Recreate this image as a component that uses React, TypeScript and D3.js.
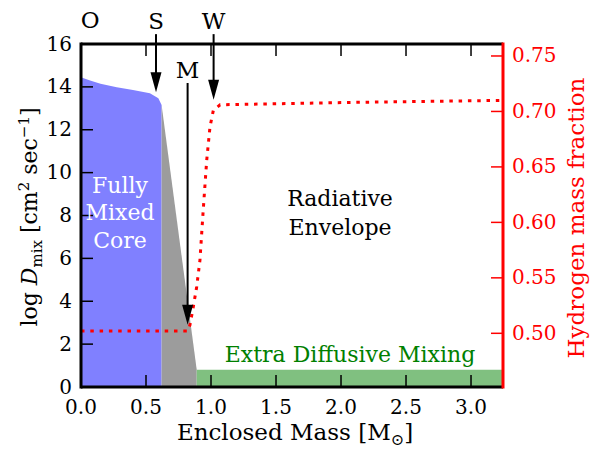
import * as d3 from "d3";

// mixing profile of the convective core (log D_mix)
const coreMass = [0, 0.01, 0.07, 0.15, 0.275, 0.4, 0.53, 0.595, 0.62];
const coreLogD = [14.45, 14.43, 14.3, 14.15, 13.98, 13.85, 13.7, 13.47, 13.15];

// overshoot region
const overMass = [0.62, 0.89];
const overLogD = [13.15, 0.8];

// extra diffusive mixing in the envelope
const envMass = [0.89, 3.246];
const envLogD = [0.8, 0.8];

// hydrogen mass fraction
const hMass = [0, 0.82, 0.838, 0.864, 0.89, 0.915, 0.94, 0.967, 0.992, 1.018, 1.07, 2.0, 3.246];
const hFrac = [0.502, 0.502, 0.5075, 0.524, 0.542, 0.566, 0.611, 0.656, 0.686, 0.701, 0.706, 0.708, 0.71];

const xTicks = [0, 0.5, 1, 1.5, 2, 2.5, 3];
const yTicks = [0, 2, 4, 6, 8, 10, 12, 14, 16];
const hTicks = [0.5, 0.55, 0.6, 0.65, 0.7, 0.75];

// markers: label, mass, arrow tail and tip (log D units)
const markerLabels = ["O", "S", "W", "M"];
const markerMass = [0.07, 0.577, 1.02, 0.82];
const markerTail = [null, 16.46, 16.46, 14.18];
const markerTip = [null, 13.75, 13.4, 2.9];

const font = "'DejaVu Serif', 'Liberation Serif', serif";

export default function App() {
  const margin = { top: 44, right: 97, bottom: 63, left: 81 };
  const W = 600, H = 450;

  const x = d3.scaleLinear().domain([0, 3.246]).range([margin.left, W - margin.right]);
  const y = d3.scaleLinear().domain([0, 16]).range([H - margin.bottom, margin.top]);
  const yH = d3.scaleLinear().domain([0.4516, 0.7608]).range([H - margin.bottom, margin.top]);

  const area = d3.area<number>()
    .x((d) => x(d))
    .y0(y(0));

  const corePath = area.y1((_, i) => y(coreLogD[i]))(coreMass);
  const overPath = area.y1((_, i) => y(overLogD[i]))(overMass);
  const envPath = area.y1((_, i) => y(envLogD[i]))(envMass);

  const hLine = d3.line<number>()
    .x((d) => x(d))
    .y((_, i) => yH(hFrac[i]))(hMass);

  const x0 = x(0), x1 = x(3.246), yb = y(0), yt = y(16);
  const tickLen = 12;
  const fs = 20;
  const fl = 22;

  return (
    <svg width={W} height={H} style={{ position: "absolute", left: 0, top: 0, background: "#fff" }}
      fontFamily={font}>
      <path d={corePath!} fill="#8080ff" />
      <path d={overPath!} fill="#9c9c9c" />
      <path d={envPath!} fill="#80c080" />

      <path d={hLine!} fill="none" stroke="#ff0000" strokeWidth={3} strokeDasharray="3.5 5.8" />

      {/* ticks, pointing inward */}
      {xTicks.map((t) => (
        <g key={"x" + t}>
          <line x1={x(t)} x2={x(t)} y1={yb} y2={yb - tickLen} stroke="#000" strokeWidth={1.5} />
          <line x1={x(t)} x2={x(t)} y1={yt} y2={yt + tickLen} stroke="#000" strokeWidth={1.5} />
          <text x={x(t)} y={414} textAnchor="middle" fontSize={fs}>{t.toFixed(1)}</text>
        </g>
      ))}
      {yTicks.map((t) => (
        <g key={"y" + t}>
          <line x1={x0} x2={x0 + tickLen} y1={y(t)} y2={y(t)} stroke="#000" strokeWidth={1.5} />
          <text x={72} y={y(t) + 6.5} textAnchor="end" fontSize={fs}>{t}</text>
        </g>
      ))}
      {hTicks.map((t) => (
        <g key={"h" + t}>
          <line x1={x1} x2={x1 - tickLen} y1={yH(t)} y2={yH(t)} stroke="#ff0000" strokeWidth={1.5} />
          <text x={512} y={yH(t) + 6.5} fontSize={fs} fill="#ff0000">{t.toFixed(2)}</text>
        </g>
      ))}

      {/* frame */}
      <line x1={x0} x2={x1} y1={yt} y2={yt} stroke="#000" strokeWidth={3} />
      <line x1={x0} x2={x1} y1={yb} y2={yb} stroke="#000" strokeWidth={3} />
      <line x1={x0} x2={x0} y1={yt - 1.5} y2={yb + 1.5} stroke="#000" strokeWidth={3} />
      <line x1={x1} x2={x1} y1={yt - 1.5} y2={yb + 1.5} stroke="#ff0000" strokeWidth={3} />

      {/* region labels */}
      <text fontSize={fl} fill="#fff" textAnchor="middle">
        <tspan x={120} y={193}>Fully</tspan>
        <tspan x={120} y={220}>Mixed</tspan>
        <tspan x={120} y={248}>Core</tspan>
      </text>
      <text fontSize={fl} textAnchor="middle">
        <tspan x={340} y={206}>Radiative</tspan>
        <tspan x={340} y={235}>Envelope</tspan>
      </text>
      <text x={350} y={362} fontSize={fl} textAnchor="middle" fill="#008000">Extra Diffusive Mixing</text>

      {/* markers */}
      {markerLabels.map((lab, i) => {
        const mx = x(markerMass[i]);
        const tail = markerTail[i];
        const tip = markerTip[i];
        const labelY = tail === null ? 28 : y(tail) - 5;
        return (
          <g key={lab}>
            <text x={mx} y={labelY} fontSize={23} textAnchor="middle">{lab}</text>
            {tail !== null && tip !== null && (
              <>
                <line x1={mx} x2={mx} y1={y(tail)} y2={y(tip) - 18} stroke="#000" strokeWidth={2} />
                <path d={`M${mx - 5.5},${y(tip) - 20}L${mx + 5.5},${y(tip) - 20}L${mx},${y(tip)}Z`} fill="#000" />
              </>
            )}
          </g>
        );
      })}

      {/* axis labels */}
      <text x={295} y={440} fontSize={23} textAnchor="middle">
        Enclosed Mass [M<tspan dy={5} fontSize={16}>⊙</tspan><tspan dy={-5}>]</tspan>
      </text>
      <text transform="translate(37,217) rotate(-90)" fontSize={fl} textAnchor="middle">
        log <tspan fontStyle="italic">D</tspan><tspan dy={5} fontSize={15}>mix</tspan>
        <tspan dy={-5}> [cm</tspan><tspan dy={-8} fontSize={15}>2</tspan>
        <tspan dy={8}> sec</tspan><tspan dy={-8} fontSize={15}>−1</tspan><tspan dy={8}>]</tspan>
      </text>
      <text transform="translate(584,218) rotate(-90)" fontSize={23} textAnchor="middle" fill="#ff0000">
        Hydrogen mass fraction
      </text>
    </svg>
  );
}
